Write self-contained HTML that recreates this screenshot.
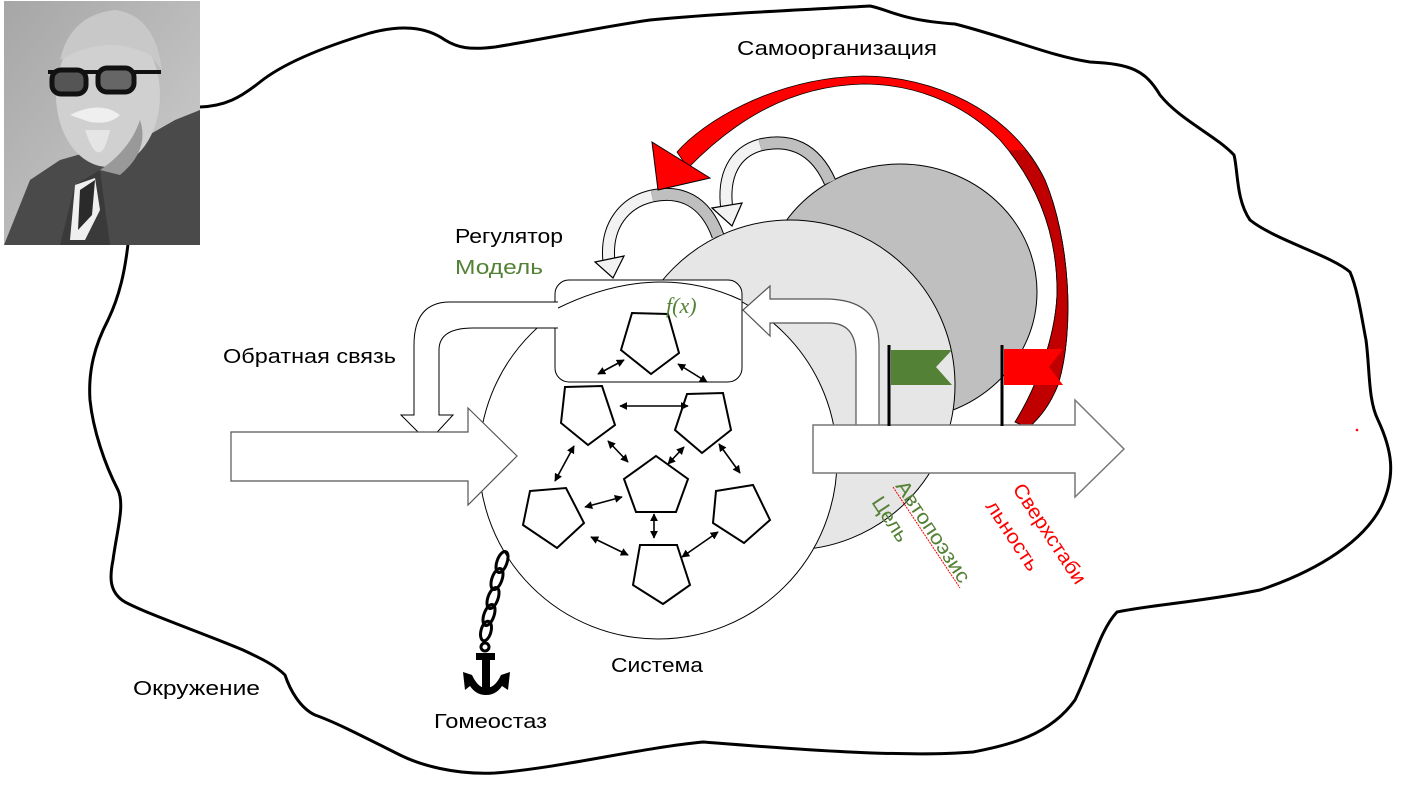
<!DOCTYPE html>
<html><head><meta charset="utf-8"><style>
html,body{margin:0;padding:0;background:#fff;}
svg{display:block;}
text{font-family:"Liberation Sans","DejaVu Sans",sans-serif;}
</style></head><body>
<svg width="1406" height="788" viewBox="0 0 1406 788" xmlns="http://www.w3.org/2000/svg">
<rect width="1406" height="788" fill="#fff"/>

<!-- environment blob -->
<path fill="none" stroke="#000" stroke-width="3" stroke-linejoin="round" d="M200,107 C225,106 240,98 260,82 C285,62 330,45 370,33 C400,25 425,26 445,40 C458,48 470,50 495,47 C540,40 600,27 650,20 C710,14 800,10 870,6 C890,10 900,20 955,24 C1010,38 1050,56 1090,62 C1131,64 1145,70 1160,95 C1180,120 1215,135 1234,155 C1238,170 1236,200 1250,220 C1275,240 1330,255 1350,272 C1358,290 1362,320 1366,340 C1370,370 1368,400 1378,420 C1392,450 1396,475 1382,505 C1365,540 1320,570 1260,590 C1200,602 1150,605 1117,612 C1100,630 1092,665 1075,700 C1050,735 1010,745 973,752 C900,758 780,748 703,742 C640,748 560,768 495,773 C455,775 420,765 400,755 C360,735 335,722 315,715 C300,708 290,690 285,675 C275,665 260,658 243,650 C200,632 150,615 125,602 C108,592 110,575 113,560 C117,530 125,505 118,490 C105,465 93,430 90,400 C88,370 95,345 108,320 C120,295 125,270 128,244"/>

<!-- photo -->
<g>
<defs><linearGradient id="bg" x1="0" y1="0" x2="1" y2="1"><stop offset="0" stop-color="#a6a6a6"/><stop offset="1" stop-color="#cfcfcf"/></linearGradient></defs>
<rect x="4" y="1" width="196" height="244" fill="url(#bg)"/>
<path d="M4,245 L30,180 L60,160 L95,150 L140,140 L175,120 L200,110 L200,245 Z" fill="#4a4a4a"/>
<path d="M60,245 L75,185 L100,170 L110,245 Z" fill="#3a3a3a"/>
<path d="M75,185 L95,178 L100,210 L85,240 L70,240 Z" fill="#efefef"/>
<path d="M80,190 L95,180 L92,215 L78,230 Z" fill="#2a2a2a"/>
<ellipse cx="108" cy="95" rx="52" ry="72" fill="#d0d0d0"/>
<path d="M60,60 Q70,15 115,10 Q155,15 162,70 L150,55 Q110,35 70,55 Z" fill="#c8c8c8"/>
<path d="M70,115 Q100,100 120,115 Q110,125 90,122 Z" fill="#efefef"/>
<path d="M85,130 Q100,175 110,130 Z" fill="#e5e5e5"/>
<rect x="48" y="70" width="113" height="4" fill="#111"/>
<rect x="52" y="70" width="34" height="24" rx="9" fill="#555" stroke="#111" stroke-width="5"/>
<rect x="98" y="68" width="36" height="24" rx="9" fill="#666" stroke="#111" stroke-width="5"/>
<path d="M140,120 Q150,150 120,175 L100,170 Q130,150 140,120 Z" fill="#999"/>
</g>

<!-- dark gray circle -->
<ellipse cx="900" cy="292" rx="137" ry="128" fill="#bfbfbf" stroke="#000" stroke-width="1"/>
<!-- light gray circle -->
<circle cx="790" cy="385" r="165" fill="#e6e6e6" stroke="#000" stroke-width="1"/>
<!-- system circle -->
<circle cx="658" cy="460" r="179" fill="#fff" stroke="#000" stroke-width="1"/>

<!-- gray curved arrows -->
<g stroke-linecap="butt" fill="none">
<path d="M830,182 C815,148 790,138 760,145" stroke="#000" stroke-width="13"/>
<path d="M830,182 C815,148 790,138 760,145" stroke="#bfbfbf" stroke-width="11"/>
<path d="M760,145 C735,152 722,175 727,210" stroke="#000" stroke-width="13"/>
<path d="M760,145 C735,152 722,175 727,210" stroke="#f2f2f2" stroke-width="11"/>
<path d="M718,236 C705,200 680,190 652,196" stroke="#000" stroke-width="13"/>
<path d="M718,236 C705,200 680,190 652,196" stroke="#bfbfbf" stroke-width="11"/>
<path d="M652,196 C625,202 605,225 609,262" stroke="#000" stroke-width="13"/>
<path d="M652,196 C625,202 605,225 609,262" stroke="#f2f2f2" stroke-width="11"/>
</g>
<polygon points="712,208 742,203 732,226" fill="#f2f2f2" stroke="#000" stroke-width="1.2"/>
<polygon points="595,262 624,256 613,278" fill="#f2f2f2" stroke="#000" stroke-width="1.2"/>

<!-- red self-organisation arrow -->
<defs>
<path id="redshaft" d="M677,152 C700,125 770,78 863,76 C930,76 1010,108 1045,180 C1070,240 1075,330 1058,385 C1050,405 1040,418 1028,428 L1015,422 C1035,390 1055,340 1057,295 C1058,230 1035,180 1000,140 C960,100 910,84 863,84 C790,86 735,120 688,168 Z"/>
<clipPath id="darkclip"><polygon points="1010,150 1100,150 1100,440 1000,440"/></clipPath>
</defs>
<use href="#redshaft" fill="#ff0000" stroke="#000" stroke-width="0.8"/>
<use href="#redshaft" fill="#c00000" stroke="#000" stroke-width="0.8" clip-path="url(#darkclip)"/>
<polygon points="652,142 710,178 658,190" fill="#ff0000" stroke="#000" stroke-width="1"/>

<!-- regulator rect -->
<rect x="555" y="280" width="187" height="102" rx="14" fill="#fff" stroke="#000" stroke-width="1"/>
<path d="M556,309 Q655,260 741,300" fill="none" stroke="#000" stroke-width="1"/>

<!-- left feedback arrow -->
<path d="M558,302 L450,302 Q414,302 414,345 L414,415 L401,415 L428,442 L453,415 L439,415 L439,350 Q439,328 473,328 L558,328" fill="#fff" stroke="#000" stroke-width="1"/>
<!-- right feedback arrow -->
<path d="M879,427 L879,345 Q879,299 825,299 L770,299 L770,286 L743,310 L770,336 L770,323 L829,323 Q856,323 856,355 L856,427 Z" fill="#fff" stroke="#555" stroke-width="1.2"/>

<!-- input arrow -->
<polygon points="231,432 468,432 468,408 517,456 468,505 468,481 231,481" fill="#fff" stroke="#555" stroke-width="1.2"/>
<!-- output arrow -->
<polygon points="813,425 1075,425 1075,400 1124,449 1075,497 1075,473 813,473" fill="#fff" stroke="#777" stroke-width="1.5"/>

<!-- flags -->
<line x1="889" y1="345" x2="889" y2="426" stroke="#000" stroke-width="3"/>
<polygon points="891,350 952,350 936,367 952,385 891,385" fill="#538135"/>
<line x1="1002" y1="345" x2="1002" y2="426" stroke="#000" stroke-width="3"/>
<polygon points="1004,349 1063,349 1049,367 1063,385 1004,385" fill="#ff0000"/>

<!-- pentagons -->
<g fill="#fff" stroke="#000" stroke-width="2">
<polygon points="632,313 668,314 679,353 651,374 621,350"/>
<polygon points="565,387 602,386 615,425 588,445 561,423"/>
<polygon points="687,394 723,393 731,430 702,453 675,430"/>
<polygon points="656,456 688,479 676,512 636,512 624,479"/>
<polygon points="530,491 566,488 584,523 557,548 523,525"/>
<polygon points="716,491 753,485 770,520 744,543 713,523"/>
<polygon points="640,545 677,545 690,585 663,604 633,585"/>
</g>

<!-- double arrows -->
<defs>
<marker id="ah" viewBox="0 0 10 10" refX="9" refY="5" markerWidth="5" markerHeight="5" orient="auto-start-reverse"><path d="M0,0 L10,5 L0,10 Z" fill="#000"/></marker>
</defs>
<g stroke="#000" stroke-width="1.6" marker-start="url(#ah)" marker-end="url(#ah)">
<line x1="598" y1="374" x2="624" y2="360"/>
<line x1="678" y1="364" x2="707" y2="382"/>
<line x1="620" y1="406" x2="688" y2="406"/>
<line x1="608" y1="441" x2="628" y2="462"/>
<line x1="684" y1="447" x2="668" y2="464"/>
<line x1="719" y1="444" x2="740" y2="473"/>
<line x1="574" y1="446" x2="555" y2="481"/>
<line x1="585" y1="507" x2="622" y2="497"/>
<line x1="654" y1="514" x2="654" y2="538"/>
<line x1="591" y1="537" x2="628" y2="555"/>
<line x1="682" y1="557" x2="718" y2="532"/>
</g>

<!-- chain and anchor -->
<g fill="none" stroke="#000" stroke-width="3">
<ellipse cx="502" cy="562" rx="5" ry="11" transform="rotate(20 502 562)"/>
<ellipse cx="497" cy="579" rx="5" ry="11" transform="rotate(20 497 579)"/>
<ellipse cx="493" cy="598" rx="5" ry="11" transform="rotate(20 493 598)"/>
<ellipse cx="489" cy="615" rx="5" ry="11" transform="rotate(20 489 615)"/>
<ellipse cx="486" cy="631" rx="5" ry="10" transform="rotate(15 486 631)"/>
<circle cx="485" cy="647" r="4"/>
</g>
<rect x="476" y="653" width="19" height="7" fill="#000"/>
<rect x="482" y="653" width="8" height="37" fill="#000"/>
<path d="M463,672 L472,675 Q478,688 486,688 Q495,688 501,675 L510,672 L508,690 L502,686 Q496,695 486,695 Q476,695 470,686 L465,690 Z" fill="#000"/>

<!-- text -->
<text x="737" y="55" font-size="20" textLength="200" lengthAdjust="spacingAndGlyphs">Самоорганизация</text>
<text x="455" y="243" font-size="20" textLength="108" lengthAdjust="spacingAndGlyphs">Регулятор</text>
<text x="455" y="274" font-size="20" fill="#538135" textLength="88" lengthAdjust="spacingAndGlyphs">Модель</text>
<text x="223" y="363" font-size="20" textLength="173" lengthAdjust="spacingAndGlyphs">Обратная связь</text>
<text x="133" y="695" font-size="20" textLength="127" lengthAdjust="spacingAndGlyphs">Окружение</text>
<text x="434" y="728" font-size="20" textLength="113" lengthAdjust="spacingAndGlyphs">Гомеостаз</text>
<text x="611" y="672" font-size="20" textLength="92" lengthAdjust="spacingAndGlyphs">Система</text>
<text x="666" y="313" font-size="22" font-style="italic" fill="#538135" style="font-family:'Liberation Serif',serif">f(x)</text>

<g font-size="20">
<text x="895" y="486" fill="#538135" transform="rotate(56.5 895 486)" textLength="118" lengthAdjust="spacingAndGlyphs">Автопоэзис</text>
<text x="871" y="502" fill="#538135" transform="rotate(56.5 871 502)" textLength="50" lengthAdjust="spacingAndGlyphs">Цель</text>
<text x="1012" y="489" fill="#ff0000" transform="rotate(56.5 1012 489)" textLength="116" lengthAdjust="spacingAndGlyphs">Сверхстаби</text>
<text x="985" y="506" fill="#ff0000" transform="rotate(56.5 985 506)" textLength="80" lengthAdjust="spacingAndGlyphs">льность</text>
</g>
<line x1="893" y1="487" x2="960" y2="588" stroke="#ff0000" stroke-width="1" stroke-dasharray="2,1"/>
<circle cx="1357" cy="430" r="1.3" fill="#ff0000"/>
</svg>
</body></html>
